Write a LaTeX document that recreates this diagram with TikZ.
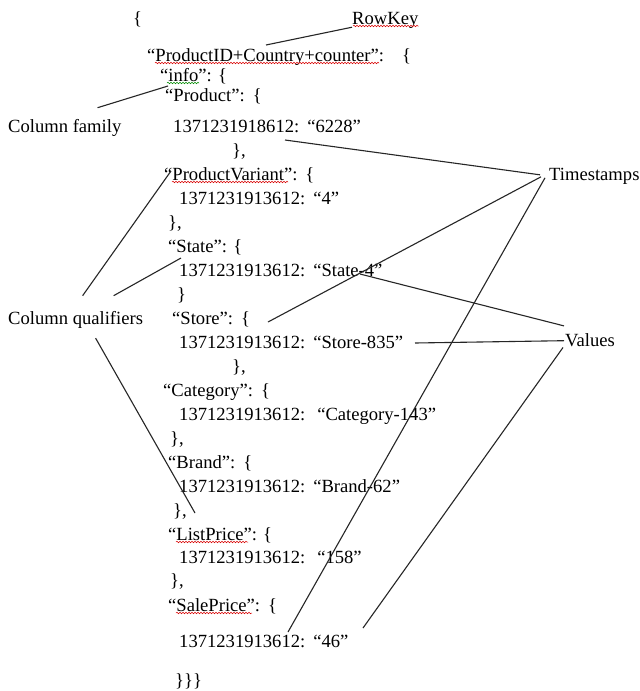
\documentclass[tikz,border=0pt]{standalone}
\usepackage{fontspec}
\setmainfont{Liberation Serif}
\usetikzlibrary{calc,decorations.pathmorphing}
\begin{document}
\begin{tikzpicture}[x=1pt,y=-1pt,
  txt/.style={anchor=base west,inner sep=0pt,font=\fontsize{18.6}{20}\selectfont},
  conn/.style={draw=black!85,line width=1.1pt},
  squig/.style={draw=red!85!black,line width=0.5pt,decorate,decoration={snake,amplitude=0.8pt,segment length=3pt}},
  gsquig/.style={squig,draw=green!55!black}]
\useasboundingbox (0,0) rectangle (640,691);
\fill[white] (0,0) rectangle (640,691);
% JSON text
\node[txt] (b0) at (133,24) {\{};
\node[txt] (pid) at (147,61) {“ProductID+Country+counter”:\hspace{18pt}\{};
\node[txt] (info) at (160,81) {“info”: \{};
\node[txt] (prod) at (165,101) {“Product”:\hspace{8pt}\{};
\node[txt] (ts1) at (173,132) {1371231918612:\hspace{8pt}“6228”};
\node[txt] (cl1) at (232,156) {\},};
\node[txt] (pv) at (164,180) {“ProductVariant”:\hspace{8pt}\{};
\node[txt] (ts2) at (179,204) {1371231913612:\hspace{8pt}“4”};
\node[txt] (cl2) at (168,228) {\},};
\node[txt] (state) at (168,252) {“State”: \{};
\node[txt] (ts3) at (179,276) {1371231913612:\hspace{8pt}“State-4”};
\node[txt] (cl3) at (177,300) {\}};
\node[txt] (store) at (172,324) {“Store”:\hspace{8pt}\{};
\node[txt] (ts4) at (179,348) {1371231913612:\hspace{8pt}“Store-835”};
\node[txt] (cl4) at (232,372) {\},};
\node[txt] (cat) at (163,396) {“Category”:\hspace{8pt}\{};
\node[txt] (ts5) at (179,420) {1371231913612:\hspace{12pt}“Category-143”};
\node[txt] (cl5) at (170,444) {\},};
\node[txt] (brand) at (168,468) {“Brand”:\hspace{8pt}\{};
\node[txt] (ts6) at (179,492) {1371231913612:\hspace{8pt}“Brand-62”};
\node[txt] (cl6) at (173,516) {\},};
\node[txt] (lp) at (168,540) {“ListPrice”: \{};
\node[txt] (ts7) at (179,563) {1371231913612:\hspace{12pt}“158”};
\node[txt] (cl7) at (170,586) {\},};
\node[txt] (sp) at (168,611) {“SalePrice”:\hspace{8pt}\{};
\node[txt] (ts8) at (179,647) {1371231913612:\hspace{8pt}“46”};
\node[txt] (cl8) at (175,686) {\}\}\}};
% labels
\node[txt] (rowkey) at (352,24) {RowKey};
\node[txt] (colfam) at (8,132) {Column family};
\node[txt] (colqual) at (8,324) {Column qualifiers};
\node[txt] (tstamps) at (549,180) {Timestamps};
\node[txt] (values) at (565,346) {Values};
% spell-check underlines
\draw[squig] ($(rowkey.base west)+(1,2)$) -- ($(rowkey.base east)+(0,2)$);
\draw[squig] ($(pid.base west)+(8,2)$) -- ($(pid.base west)+(232,2)$);
\draw[gsquig] ($(info.base west)+(7,2)$) -- ($(info.base west)+(39,2)$);
\draw[squig] ($(pv.base west)+(8,2)$) -- ($(pv.base west)+(124,2)$);
\draw[squig] ($(lp.base west)+(8,2)$) -- ($(lp.base west)+(80,2)$);
\draw[squig] ($(sp.base west)+(8,2)$) -- ($(sp.base west)+(84,2)$);
% attachment points in the JSON text
\coordinate (pRow) at (266,45);
\coordinate (pInfo) at (168,86);
\coordinate (p6228) at (285,140);
\coordinate (pPV) at (171,171);
\coordinate (pState) at (181,258);
\coordinate (pBrand) at (195,513);
\coordinate (pStore) at (268,322);
\coordinate (pSale) at (288,632);
\coordinate (pState4) at (360,274);
\coordinate (pStore835) at (415,343);
\coordinate (p46) at (363,628);
% connectors
\draw[conn] ($(rowkey.south west)+(0,-1)$) -- (pRow);
\draw[conn] ($(colfam.north east)+(-24,-11)$) -- (pInfo);
\draw[conn] (p6228) -- ($(tstamps.west)+(-9,-1)$);
\draw[conn] ($(colqual.north)+(7,-15)$) -- (pPV);
\draw[conn] ($(colqual.north)+(38,-15)$) -- (pState);
\draw[conn] ($(colqual.south)+(20,10)$) -- (pBrand);
\draw[conn] (pStore) -- ($(tstamps.west)+(-8,1)$);
\draw[conn] ($(tstamps.west)+(-4,2)$) -- (pSale);
\draw[conn] (pState4) -- ($(values.north west)+(-1,-7)$);
\draw[conn] (pStore835) -- ($(values.west)+(-1,1)$);
\draw[conn] ($(values.south west)+(-2,1)$) -- (p46);
\end{tikzpicture}
\end{document}
